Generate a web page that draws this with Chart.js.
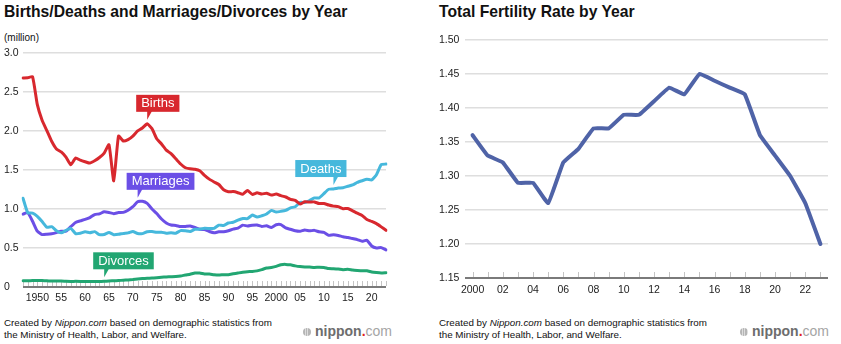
<!DOCTYPE html>
<html>
<head>
<meta charset="utf-8">
<script src="https://cdn.jsdelivr.net/npm/chart.js@4.4.1/dist/chart.umd.min.js"></script>
<style>
  html, body { margin: 0; padding: 0; background: #fff; }
  body {
    width: 841px; height: 344px; position: relative; overflow: hidden;
    font-family: "Liberation Sans", Arial, Helvetica, sans-serif; color: #111;
  }
  .title { position: absolute; top: 3px; margin: 0; font-size: 15.7px; font-weight: bold; white-space: nowrap; }
  .unit { position: absolute; left: 4px; top: 32px; font-size: 10px; }
  canvas { position: absolute; }
  .note { position: absolute; top: 317px; font-size: 9.8px; line-height: 12px; white-space: nowrap; }
  .logo { position: absolute; top: 323px; font-size: 14px; font-weight: bold; color: #6d6d6d; white-space: nowrap; }
  .logo i { display: inline-block; width: 8px; height: 8px; border-radius: 50%; margin-right: 4px;
    background: repeating-linear-gradient(90deg, #b5b5b5 0 1.5px, #dcdcdc 1.5px 2.5px); }
  .logo .dot { color: #e2231a; }
  .logo .com { color: #a5a5a5; font-weight: normal; }
</style>
</head>
<body>
<h1 class="title" style="left:4px">Births/Deaths and Marriages/Divorces by Year</h1>
<div class="unit">(million)</div>
<canvas id="vitalChart" width="387" height="264" style="left:4px; top:45px"></canvas>
<div class="note" style="left:4px">Created by <i>Nippon.com</i> based on demographic statistics from<br>the Ministry of Health, Labor, and Welfare.</div>
<div class="logo" style="left:303px"><i></i>nippon<span class="dot">.</span><span class="com">com</span></div>

<h1 class="title" style="left:439px">Total Fertility Rate by Year</h1>
<canvas id="tfrChart" width="391" height="268" style="left:439px; top:32px"></canvas>
<div class="note" style="left:439px">Created by <i>Nippon.com</i> based on demographic statistics from<br>the Ministry of Health, Labor, and Welfare.</div>
<div class="logo" style="left:740px"><i></i>nippon<span class="dot">.</span><span class="com">com</span></div>

<script>
// annual figures, millions
const years = [];
for (let y = 1947; y <= 2023; y++) years.push(y);

const births = [
  2.679, 2.682, 2.697, 2.338, 2.138, 2.005, 1.868, 1.770, 1.731, 1.665,
  1.567, 1.653, 1.626, 1.606, 1.589, 1.619, 1.660, 1.717, 1.824, 1.361,
  1.936, 1.872, 1.890, 1.934, 2.001, 2.039, 2.092, 2.030, 1.901, 1.833,
  1.755, 1.709, 1.643, 1.577, 1.529, 1.515, 1.509, 1.490, 1.432, 1.383,
  1.347, 1.314, 1.247, 1.222, 1.223, 1.209, 1.188, 1.238, 1.187, 1.207,
  1.192, 1.203, 1.178, 1.191, 1.171, 1.154, 1.124, 1.111, 1.063, 1.093,
  1.090, 1.091, 1.070, 1.071, 1.051, 1.037, 1.030, 1.004, 1.006, 0.977,
  0.946, 0.918, 0.865, 0.841, 0.812, 0.771, 0.727
];
const deaths = [
  1.138, 0.951, 0.946, 0.905, 0.839, 0.766, 0.773, 0.722, 0.694, 0.725,
  0.752, 0.685, 0.690, 0.707, 0.696, 0.710, 0.671, 0.674, 0.700, 0.671,
  0.675, 0.687, 0.694, 0.713, 0.685, 0.684, 0.709, 0.711, 0.702, 0.703,
  0.690, 0.696, 0.690, 0.723, 0.720, 0.712, 0.740, 0.740, 0.752, 0.751,
  0.751, 0.793, 0.789, 0.820, 0.830, 0.857, 0.879, 0.876, 0.922, 0.896,
  0.913, 0.936, 0.982, 0.962, 0.970, 0.982, 1.015, 1.029, 1.084, 1.084,
  1.108, 1.142, 1.142, 1.197, 1.253, 1.256, 1.268, 1.273, 1.291, 1.308,
  1.341, 1.362, 1.381, 1.373, 1.440, 1.569, 1.576
];
const marriages = [
  0.934, 0.953, 0.843, 0.715, 0.672, 0.676, 0.683, 0.697, 0.715, 0.715,
  0.773, 0.827, 0.848, 0.866, 0.890, 0.929, 0.938, 0.964, 0.955, 0.940,
  0.954, 0.957, 0.985, 1.029, 1.092, 1.100, 1.072, 1.000, 0.942, 0.872,
  0.821, 0.794, 0.789, 0.775, 0.777, 0.781, 0.763, 0.740, 0.736, 0.711,
  0.696, 0.708, 0.708, 0.722, 0.742, 0.754, 0.793, 0.782, 0.792, 0.795,
  0.776, 0.785, 0.762, 0.798, 0.800, 0.757, 0.740, 0.720, 0.714, 0.731,
  0.720, 0.726, 0.708, 0.700, 0.662, 0.669, 0.661, 0.644, 0.635, 0.621,
  0.607, 0.586, 0.599, 0.526, 0.501, 0.505, 0.475
];
const divorces = [
  0.079, 0.080, 0.082, 0.084, 0.082, 0.080, 0.076, 0.076, 0.076, 0.073,
  0.071, 0.073, 0.072, 0.070, 0.070, 0.072, 0.070, 0.073, 0.078, 0.080,
  0.083, 0.087, 0.091, 0.096, 0.103, 0.108, 0.112, 0.114, 0.119, 0.125,
  0.129, 0.132, 0.135, 0.142, 0.154, 0.164, 0.179, 0.179, 0.167, 0.166,
  0.158, 0.154, 0.158, 0.158, 0.169, 0.179, 0.189, 0.196, 0.199, 0.207,
  0.223, 0.243, 0.251, 0.264, 0.286, 0.290, 0.284, 0.271, 0.262, 0.257,
  0.255, 0.251, 0.253, 0.251, 0.236, 0.235, 0.231, 0.222, 0.226, 0.217,
  0.212, 0.208, 0.209, 0.193, 0.185, 0.180, 0.184
];

const tfrYears = [];
for (let y = 2000; y <= 2023; y++) tfrYears.push(y);
const tfr = [
  1.36, 1.33, 1.32, 1.29, 1.29, 1.26, 1.32, 1.34, 1.37, 1.37, 1.39, 1.39,
  1.41, 1.43, 1.42, 1.45, 1.44, 1.43, 1.42, 1.36, 1.33, 1.30, 1.26, 1.20
];

// series tags: which dataset, which year the pointer sits on, and which side the box hangs
const tagSeries = [0, 2, 1, 3];
const tagYears = [1973, 1971, 2012, 1964];
const tagSides = ['left', 'left', 'right', 'left'];

const FONT = '"Liberation Sans", Arial, Helvetica, sans-serif';
Chart.defaults.font.family = FONT;
Chart.defaults.color = '#222';

// short upward tick for every year along the baseline
const yearTicks = {
  id: 'yearTicks',
  beforeDatasetsDraw(chart) {
    const { ctx, chartArea, scales: { x } } = chart;
    ctx.save();
    ctx.strokeStyle = '#c4c4c4';
    ctx.lineWidth = 1;
    x.ticks.forEach((t, i) => {
      const px = Math.round(x.getPixelForTick(i)) + 0.5;
      ctx.beginPath();
      ctx.moveTo(px, chartArea.bottom - 1);
      ctx.lineTo(px, chartArea.bottom - 6);
      ctx.stroke();
    });
    ctx.restore();
  }
};

// coloured name boxes with a pointer down to the line
const seriesTags = {
  id: 'seriesTags',
  afterDatasetsDraw(chart) {
    const { ctx } = chart;
    ctx.save();
    ctx.font = '13px ' + FONT;
    ctx.textBaseline = 'middle';
    tagSeries.forEach((s, k) => {
      const ds = chart.data.datasets[s];
      const pt = chart.getDatasetMeta(s).data[years.indexOf(tagYears[k])];
      const tipX = pt.x, tipY = pt.y - 4;
      const w = ctx.measureText(ds.label).width + 10, h = 17;
      const bottom = tipY - 8;
      const left = tagSides[k] === 'left' ? tipX - 11 : tipX + 13 - w;
      ctx.fillStyle = ds.borderColor;
      ctx.fillRect(left, bottom - h, w, h);
      ctx.beginPath();
      ctx.moveTo(tipX, bottom - 1);
      ctx.lineTo(tipX + 5, bottom - 1);
      ctx.lineTo(tipX, tipY);
      ctx.closePath();
      ctx.fill();
      ctx.fillStyle = '#fff';
      ctx.fillText(ds.label, left + 5, bottom - h / 2 + 0.5);
    });
    ctx.restore();
  }
};

function gridStyle(bottomValue) {
  return {
    color: c => c.tick.value === bottomValue ? '#7a7a7a' : '#dedede',
    lineWidth: c => c.tick.value === bottomValue ? 2 : 1.5,
    drawTicks: false
  };
}

function line(label, data, color, width, tension) {
  return {
    label, data, borderColor: color, backgroundColor: color,
    borderWidth: width, pointRadius: 0, tension,
    borderJoinStyle: 'round', borderCapStyle: 'round', fill: false
  };
}

new Chart(document.getElementById('vitalChart'), {
  type: 'line',
  data: {
    labels: years,
    datasets: [
      line('Births', births, '#d8282e', 3, 0.15),
      line('Deaths', deaths, '#46b8dc', 3, 0.15),
      line('Marriages', marriages, '#6b4fe6', 3, 0.15),
      line('Divorces', divorces, '#22a672', 3, 0.15)
    ]
  },
  options: {
    responsive: false,
    devicePixelRatio: 1,
    animation: false,
    layout: { padding: { top: 8, right: 2, left: 0, bottom: 0 } },
    plugins: { legend: { display: false }, tooltip: { enabled: false } },
    scales: {
      x: {
        type: 'category',
        grid: { display: false, drawTicks: false },
        border: { display: false },
        ticks: {
          autoSkip: false, maxRotation: 0, padding: 5,
          font: { size: 10.5 },
          callback(v, i) {
            const y = years[i];
            if (y % 5) return '';
            return (y === 1950 || y === 2000) ? String(y) : String(y).slice(2);
          }
        },
        afterFit(s) { s.height = 22; }
      },
      y: {
        min: 0, max: 3,
        grid: gridStyle(0),
        border: { display: false },
        ticks: {
          stepSize: 0.5, crossAlign: 'far', padding: 0,
          font: { size: 10.5 },
          callback: v => v === 0 ? '0' : v.toFixed(1)
        },
        afterFit(s) { s.width = 19; }
      }
    }
  },
  plugins: [yearTicks, seriesTags]
});

new Chart(document.getElementById('tfrChart'), {
  type: 'line',
  data: {
    labels: tfrYears,
    datasets: [line('Total fertility rate', tfr, '#4f63a7', 4, 0.08)]
  },
  options: {
    responsive: false,
    devicePixelRatio: 1,
    animation: false,
    layout: { padding: { top: 8, right: 2, left: 0, bottom: 0 } },
    plugins: { legend: { display: false }, tooltip: { enabled: false } },
    scales: {
      x: {
        type: 'category',
        offset: true,
        grid: { display: false, drawTicks: false },
        border: { display: false },
        ticks: {
          autoSkip: false, maxRotation: 0, padding: 6,
          font: { size: 10.5 },
          callback(v, i) {
            const y = tfrYears[i];
            if (y % 2) return '';
            return y === 2000 ? '2000' : String(y).slice(2);
          }
        },
        afterFit(s) { s.height = 22; }
      },
      y: {
        min: 1.15, max: 1.5,
        grid: gridStyle(1.15),
        border: { display: false },
        ticks: {
          stepSize: 0.05, crossAlign: 'far', padding: 0,
          font: { size: 10.5 },
          callback: v => v.toFixed(2)
        },
        afterFit(s) { s.width = 26; }
      }
    }
  },
  plugins: [yearTicks]
});
</script>
</body>
</html>
